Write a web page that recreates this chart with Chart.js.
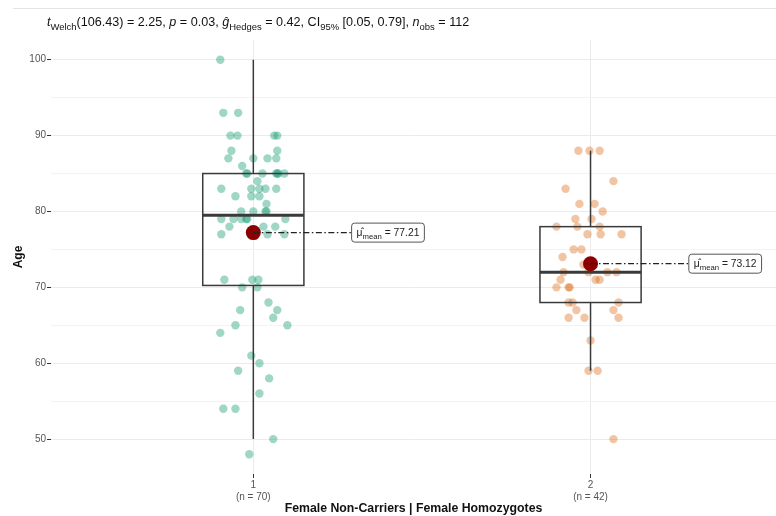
<!DOCTYPE html>
<html>
<head>
<meta charset="utf-8">
<script src="https://cdn.jsdelivr.net/npm/chart.js@4.4.0/dist/chart.umd.min.js"></script>
<style>
  html, body { margin: 0; padding: 0; background: #fff; }
  canvas { display: block; }
</style>
</head>
<body>
<canvas id="myChart" width="776" height="516"></canvas>
<script>
var groupNames = ["1", "2"];
var xTitle = "Female Non-Carriers | Female Homozygotes";
var yTitle = "Age";
var yTicks = [50, 55, 60, 65, 70, 75, 80, 85, 90, 95, 100];

// ages of the dots, top row first
var ages1 = [100, 93, 93, 90, 90, 90, 90, 88, 88, 87, 87, 87, 87, 86,
  85, 85, 85, 85, 85, 85, 85, 84, 83, 83, 83, 83, 83, 82, 82, 82, 81,
  80, 80, 80, 80, 79, 79, 79, 79, 79, 79, 78, 78, 78, 77, 77, 77, 77, 77,
  71, 71, 71, 70, 70, 68, 67, 67, 66, 65, 65, 64, 61, 60, 59, 58, 56,
  54, 54, 50, 48];
// sideways spread of each dot (group units)
var jitter1 = [-0.098, -0.089, -0.045, -0.068, -0.047, 0.062, 0.071, -0.065, 0.071,
  -0.074, 0, 0.042, 0.068, -0.033,
  -0.021, 0.027, 0.068, 0.074, 0.092, 0.071, -0.018, 0.012,
  -0.095, -0.006, 0.018, 0.036, 0.068, -0.053, -0.006, 0.018, 0.039,
  -0.036, 0, 0.036, 0.039, -0.095, -0.059, -0.036, -0.021, 0.095, -0.018,
  -0.071, 0.030, 0.065, -0.095, 0.042, 0.092, 0, -0.009,
  -0.086, -0.003, 0.015, -0.033, 0.012, 0.045, -0.039, 0.071, 0.059,
  -0.053, 0.101, -0.098, -0.006, 0.018, -0.045, 0.047, 0.018,
  -0.089, -0.053, 0.059, -0.012];

var ages2 = [88, 88, 88, 84, 83, 81, 81, 80, 79, 79, 78, 78, 78, 77, 77, 77,
  75, 75, 74, 73, 72, 72, 72, 72, 71, 71, 71, 70, 70, 70, 68, 68, 68,
  67, 67, 66, 66, 66, 63, 59, 59, 50];
var jitter2 = [-0.036, -0.003, 0.027, 0.068, -0.074, -0.033, 0.012, 0.036, -0.045, 0.003,
  -0.101, -0.039, 0.027, -0.009, 0.030, 0.092, -0.050, -0.027, -0.083, -0.021,
  -0.080, -0.006, 0.050, 0.077, -0.089, 0.015, 0.027, -0.101, -0.065, -0.062,
  -0.065, -0.053, 0.083, -0.042, 0.068, -0.065, -0.018, 0.083, 0, -0.006, 0.021, 0.068];

var subtitle = [
  {t: "t", it: true}, {t: "Welch", sub: true}, {t: "(106.43) = 2.25, "},
  {t: "p", it: true}, {t: " = 0.03, "},
  {t: "g\u0302", it: true}, {t: "Hedges", sub: true}, {t: " = 0.42, CI"},
  {t: "95%", sub: true}, {t: " [0.05, 0.79], "},
  {t: "n", it: true}, {t: "obs", sub: true}, {t: " = 112"}
];

var FONT = '"Liberation Sans", Arial, Helvetica, sans-serif';
Chart.defaults.font.family = FONT;

function quantile(s, p) {
  var h = (s.length - 1) * p, lo = Math.floor(h);
  var nxt = lo + 1 < s.length ? s[lo + 1] : s[lo];
  return s[lo] + (h - lo) * (nxt - s[lo]);
}
function boxStats(vals) {
  var s = vals.slice().sort(function (a, b) { return a - b; });
  var q1 = quantile(s, 0.25), med = quantile(s, 0.5), q3 = quantile(s, 0.75);
  var iqr = q3 - q1;
  var inside = s.filter(function (v) { return v >= q1 - 1.5 * iqr && v <= q3 + 1.5 * iqr; });
  var sum = s.reduce(function (a, b) { return a + b; }, 0);
  return {q1: q1, med: med, q3: q3, lo: inside[0], hi: inside[inside.length - 1],
    mean: sum / s.length, n: s.length};
}
var stats = [boxStats(ages1), boxStats(ages2)];

function dots(ages, jit, pos) {
  return ages.map(function (a, i) { return {x: pos + jit[i], y: a}; });
}

function richWidth(ctx, parts, size) {
  var w = 0;
  parts.forEach(function (p) {
    ctx.font = (p.it ? "italic " : "") + (p.sub ? size * 0.75 : size) + "px " + FONT;
    w += ctx.measureText(p.t).width;
  });
  return w;
}
function drawRich(ctx, parts, x, y, size) {
  parts.forEach(function (p) {
    ctx.font = (p.it ? "italic " : "") + (p.sub ? size * 0.75 : size) + "px " + FONT;
    ctx.fillText(p.t, x, y + (p.sub ? size * 0.28 : 0));
    x += ctx.measureText(p.t).width;
  });
}

var boxHalf = 0.15, labelGap = 0.29;

var boxPlugin = {
  id: "boxes",
  afterDatasetDraw: function (chart, args) {
    if (args.index !== 1) return;
    var ctx = chart.ctx, x = chart.scales.x, y = chart.scales.y;
    ctx.save();
    ctx.strokeStyle = "#3a3a3a";
    stats.forEach(function (s, i) {
      var cx = x.getPixelForValue(i + 1);
      var xl = x.getPixelForValue(i + 1 - boxHalf), xr = x.getPixelForValue(i + 1 + boxHalf);
      ctx.lineWidth = 1.5;
      ctx.beginPath();
      ctx.moveTo(cx, y.getPixelForValue(s.hi)); ctx.lineTo(cx, y.getPixelForValue(s.q3));
      ctx.moveTo(cx, y.getPixelForValue(s.q1)); ctx.lineTo(cx, y.getPixelForValue(s.lo));
      ctx.stroke();
      ctx.strokeRect(xl, y.getPixelForValue(s.q3), xr - xl, y.getPixelForValue(s.q1) - y.getPixelForValue(s.q3));
      ctx.lineWidth = 3;
      ctx.beginPath();
      ctx.moveTo(xl, y.getPixelForValue(s.med)); ctx.lineTo(xr, y.getPixelForValue(s.med));
      ctx.stroke();
    });
    ctx.restore();
  },
  afterDatasetsDraw: function (chart) {
    var ctx = chart.ctx, x = chart.scales.x, y = chart.scales.y;
    ctx.save();
    stats.forEach(function (s, i) {
      var cx = x.getPixelForValue(i + 1), cy = y.getPixelForValue(s.mean);
      var lx = x.getPixelForValue(i + 1 + labelGap);
      ctx.strokeStyle = "#222";
      ctx.lineWidth = 1.3;
      ctx.setLineDash([6, 2.5, 1.5, 2.5]);
      ctx.beginPath(); ctx.moveTo(cx, cy); ctx.lineTo(lx, cy); ctx.stroke();
      ctx.setLineDash([]);
      var parts = [{t: "\u03bc\u0302"}, {t: "mean", sub: true}, {t: " = " + s.mean.toFixed(2)}];
      var w = richWidth(ctx, parts, 10.3) + 10;
      ctx.lineWidth = 1;
      ctx.fillStyle = "#fff";
      ctx.strokeStyle = "#555";
      ctx.beginPath();
      ctx.roundRect(lx + 0.5, cy - 9.5, w, 19, 3);
      ctx.fill(); ctx.stroke();
      ctx.fillStyle = "#222";
      ctx.textBaseline = "alphabetic";
      drawRich(ctx, parts, lx + 5.5, cy + 3.5, 10.3);
    });
    // statistics line above the panel
    ctx.fillStyle = "#111";
    drawRich(ctx, subtitle, 47, 26, 12.6);
    ctx.strokeStyle = "#e3e3e3";
    ctx.lineWidth = 1;
    ctx.beginPath(); ctx.moveTo(13, 8.5); ctx.lineTo(776, 8.5); ctx.stroke();
    ctx.restore();
  }
};

new Chart("myChart", {
  type: "scatter",
  data: {
    datasets: [{
      data: dots(ages1, jitter1, 1),
      backgroundColor: "rgba(27,158,119,0.42)",
      borderWidth: 0,
      pointRadius: 4.2,
      order: 3
    }, {
      data: dots(ages2, jitter2, 2),
      backgroundColor: "rgba(217,95,2,0.36)",
      borderWidth: 0,
      pointRadius: 4.2,
      order: 2
    }, {
      data: stats.map(function (s, i) { return {x: i + 1, y: s.mean}; }),
      backgroundColor: "#8b0000",
      borderWidth: 0,
      pointRadius: 7.5,
      order: 1
    }]
  },
  options: {
    responsive: false,
    animation: false,
    devicePixelRatio: 1,
    layout: {autoPadding: false, padding: {top: 40, left: 0, right: 0, bottom: 0}},
    plugins: {legend: {display: false}, tooltip: {enabled: false}},
    scales: {
      x: {
        min: 0.4, max: 2.55,
        afterBuildTicks: function (scale) {
          scale.ticks = groupNames.map(function (g, i) { return {value: i + 1}; });
        },
        afterFit: function (scale) { scale.height = 42; },
        ticks: {
          padding: 1,
          color: "#555",
          font: {size: 10},
          callback: function (v) {
            return [groupNames[v - 1], "(n = " + stats[v - 1].n + ")"];
          }
        },
        grid: {color: "#ebebeb", tickColor: "#333", tickLength: 4},
        border: {display: false},
        title: {display: true, text: xTitle, color: "#111",
          font: {size: 12.3, weight: "bold"}, padding: {top: 0, bottom: 0}}
      },
      y: {
        min: 45.4, max: 102.6,
        afterBuildTicks: function (scale) {
          scale.ticks = yTicks.map(function (v) { return {value: v}; });
        },
        afterFit: function (scale) { scale.width = 51; },
        ticks: {
          padding: 1,
          color: "#555",
          font: {size: 10},
          callback: function (v) { return v % 10 === 0 ? String(v) : ""; }
        },
        grid: {
          color: function (c) { return c.tick && c.tick.value % 10 === 0 ? "#ebebeb" : "#f3f3f3"; },
          tickColor: function (c) { return c.tick && c.tick.value % 10 === 0 ? "#333" : "rgba(0,0,0,0)"; },
          tickLength: 4
        },
        border: {display: false},
        title: {display: true, text: yTitle, color: "#111",
          font: {size: 12, weight: "bold"}, padding: {top: 11, bottom: 0}}
      }
    }
  },
  plugins: [boxPlugin]
});
</script>
</body>
</html>
